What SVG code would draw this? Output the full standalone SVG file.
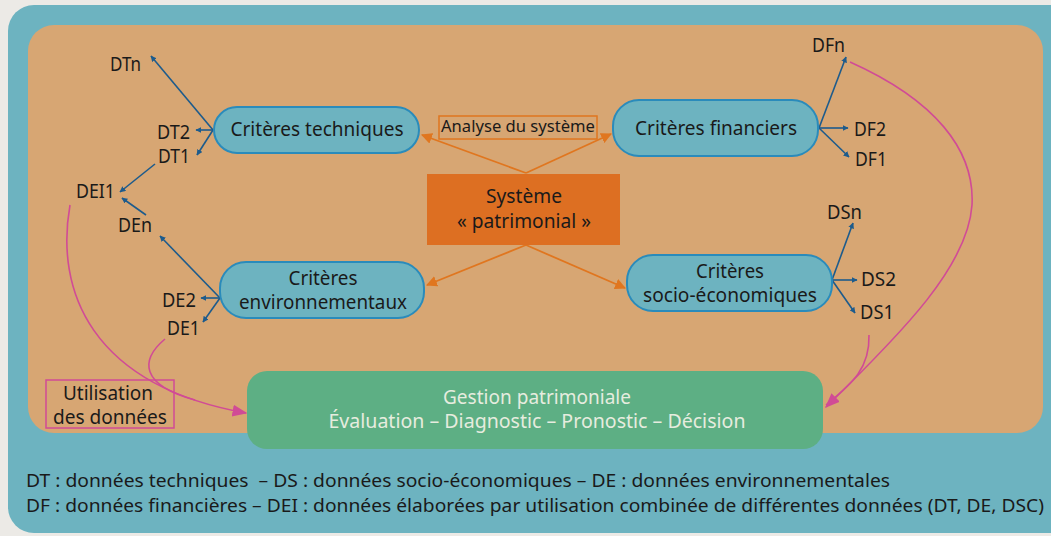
<svg xmlns="http://www.w3.org/2000/svg" width="1051" height="536" viewBox="0 0 1051 536">
<defs>
<style>
text{font-family:"Noto Sans","Open Sans","Liberation Sans",sans-serif;fill:#1a1a1a}
.crit{fill:#6db3c0;stroke:#2a8bbb;stroke-width:2}
.ct{font-size:20.5px;text-anchor:middle}
.c2{font-size:19px;text-anchor:middle}
.lbl{font-size:19px}
.lg{font-size:18.5px}
.blue{stroke:#1d5b8c;stroke-width:1.6;fill:none;marker-end:url(#ab)}
.orange{stroke:#e0761f;stroke-width:1.8;fill:none;marker-end:url(#ao)}
.pink{stroke:#d14b96;stroke-width:1.6;fill:none}
</style>
<marker id="ab" viewBox="0 0 10 10" refX="9" refY="5" markerWidth="6" markerHeight="6" markerUnits="userSpaceOnUse" orient="auto"><path d="M0,0 L10,5 L0,10 Z" fill="#1d5b8c"/></marker>
<marker id="ao" viewBox="0 0 10 10" refX="9" refY="5" markerWidth="11" markerHeight="11" markerUnits="userSpaceOnUse" orient="auto"><path d="M0,0 L10,5 L0,10 Z" fill="#e0761f"/></marker>
<marker id="ap" viewBox="0 0 10 10" refX="9" refY="5" markerWidth="15" markerHeight="15" markerUnits="userSpaceOnUse" orient="auto"><path d="M0,1 L10,5 L0,9 Z" fill="#d14b96"/></marker>
</defs>
<rect x="0" y="0" width="1051" height="536" fill="#eceae6"/>
<rect x="8" y="5" width="1070" height="528" rx="26" fill="#6db3c0"/>
<rect x="28" y="25" width="1015" height="408" rx="26" fill="#d7a673"/>

<g id="connectors">
<path class="orange" d="M526,173 L422,135"/>
<path class="orange" d="M526,173 L611,134"/>
<path class="orange" d="M526,245 L427,285"/>
<path class="orange" d="M526,245 L625,288"/>
<path class="blue" d="M213,130 L151,56"/>
<path class="blue" d="M213,130 L196,130"/>
<path class="blue" d="M213,130 L197,155"/>
<path class="blue" d="M155,164 L120,192"/>
<path class="blue" d="M146,215 L122,198"/>
<path class="blue" d="M220,298 L160,236"/>
<path class="blue" d="M220,298 L201,298"/>
<path class="blue" d="M220,298 L203,322"/>
<path class="blue" d="M819,128 L846,57"/>
<path class="blue" d="M819,128 L848,128"/>
<path class="blue" d="M819,128 L849,157"/>
<path class="blue" d="M832,280 L853,223"/>
<path class="blue" d="M832,280 L857,280"/>
<path class="blue" d="M832,280 L855,313"/>
<path class="pink" d="M70,205 C 55,290 90,385 246,413" marker-end="url(#ap)"/>
<path class="pink" d="M165,339 C 140,360 140,385 195,400"/>
<path class="pink" d="M850,62 C 935,100 975,150 972,205 C 968,265 905,330 826,407" marker-end="url(#ap)"/>
<path class="pink" d="M869,335 C 870,370 850,385 826,405"/>
</g>

<g id="systeme">
<rect x="427" y="174" width="193" height="71" fill="#dd6f22"/>
<text class="c2" x="524" y="203" textLength="76" lengthAdjust="spacingAndGlyphs">Système</text>
<text class="c2" x="524" y="228" textLength="134" lengthAdjust="spacingAndGlyphs">« patrimonial »</text>
</g>
<g id="analyse">
<rect x="439" y="116" width="158" height="23" fill="none" stroke="#e0761f" stroke-width="1.5"/>
<text x="518" y="132" font-size="17" text-anchor="middle" textLength="154" lengthAdjust="spacingAndGlyphs">Analyse du système</text>
</g>
<g id="techniques">
<rect class="crit" x="214" y="107" width="205" height="46" rx="23"/>
<text class="ct" x="317" y="136" textLength="173" lengthAdjust="spacingAndGlyphs">Critères techniques</text>
</g>
<g id="financiers">
<rect class="crit" x="613" y="100" width="205" height="56" rx="26"/>
<text class="ct" x="716" y="135" textLength="162" lengthAdjust="spacingAndGlyphs">Critères financiers</text>
</g>
<g id="environnementaux">
<rect class="crit" x="220" y="262" width="204" height="56" rx="26"/>
<text class="c2" x="323" y="285" textLength="69" lengthAdjust="spacingAndGlyphs">Critères</text>
<text class="c2" x="323" y="309" textLength="168" lengthAdjust="spacingAndGlyphs">environnementaux</text>
</g>
<g id="socio">
<rect class="crit" x="627" y="255" width="205" height="56" rx="26"/>
<text class="c2" x="730" y="278" textLength="68" lengthAdjust="spacingAndGlyphs">Critères</text>
<text class="c2" x="730" y="302" textLength="174" lengthAdjust="spacingAndGlyphs">socio-économiques</text>
</g>
<g id="gestion">
<rect x="247" y="371" width="576" height="78" rx="20" fill="#5daf84"/>
<text class="c2" x="537" y="404" style="fill:#e6ecdf" textLength="188" lengthAdjust="spacingAndGlyphs">Gestion patrimoniale</text>
<text class="c2" x="537" y="428" style="fill:#e6ecdf" textLength="417" lengthAdjust="spacingAndGlyphs">Évaluation – Diagnostic – Pronostic – Décision</text>
</g>
<g id="utilisation">
<rect x="46" y="380" width="128" height="48" fill="none" stroke="#d14b96" stroke-width="1.5"/>
<text x="108" y="400" font-size="19" text-anchor="middle" textLength="90" lengthAdjust="spacingAndGlyphs">Utilisation</text>
<text x="110" y="424" font-size="19" text-anchor="middle" textLength="114" lengthAdjust="spacingAndGlyphs">des données</text>
</g>
<g id="labels">
<text class="lbl" x="110" y="71" textLength="31" lengthAdjust="spacingAndGlyphs">DTn</text>
<text class="lbl" x="157" y="139" textLength="33" lengthAdjust="spacingAndGlyphs">DT2</text>
<text class="lbl" x="158" y="163" textLength="32" lengthAdjust="spacingAndGlyphs">DT1</text>
<text class="lbl" x="76" y="198" textLength="39" lengthAdjust="spacingAndGlyphs">DEI1</text>
<text class="lbl" x="118" y="232" textLength="34" lengthAdjust="spacingAndGlyphs">DEn</text>
<text class="lbl" x="162" y="307" textLength="34" lengthAdjust="spacingAndGlyphs">DE2</text>
<text class="lbl" x="167" y="335" textLength="33" lengthAdjust="spacingAndGlyphs">DE1</text>
<text class="lbl" x="812" y="52" textLength="33" lengthAdjust="spacingAndGlyphs">DFn</text>
<text class="lbl" x="854" y="136" textLength="32" lengthAdjust="spacingAndGlyphs">DF2</text>
<text class="lbl" x="855" y="166" textLength="32" lengthAdjust="spacingAndGlyphs">DF1</text>
<text class="lbl" x="827" y="219" textLength="35" lengthAdjust="spacingAndGlyphs">DSn</text>
<text class="lbl" x="861" y="286" textLength="35" lengthAdjust="spacingAndGlyphs">DS2</text>
<text class="lbl" x="860" y="319" textLength="34" lengthAdjust="spacingAndGlyphs">DS1</text>
</g>
<g id="legend">
<text class="lg" x="26" y="487" textLength="864" lengthAdjust="spacingAndGlyphs" xml:space="preserve">DT : données techniques  – DS : données socio-économiques – DE : données environnementales</text>
<text class="lg" x="26" y="512" textLength="1018" lengthAdjust="spacingAndGlyphs">DF : données financières – DEI : données élaborées par utilisation combinée de différentes données (DT, DE, DSC)</text>
</g>
</svg>
